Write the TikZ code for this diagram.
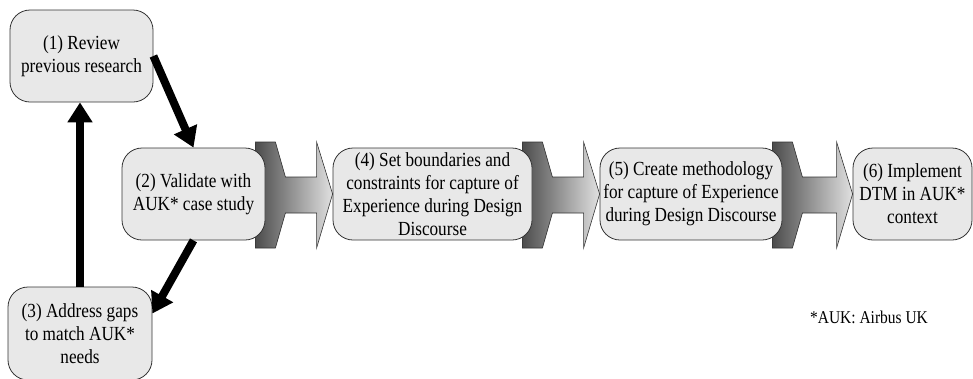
\documentclass[tikz,border=0pt]{standalone}
\usepackage{fontspec}
\setmainfont{Liberation Serif}[FakeStretch=0.86]
\usetikzlibrary{arrows.meta,calc,backgrounds}
\tikzset{
  stepbox/.style={draw=black!80, line width=0.8pt, fill=black!9,
    rounded corners=20pt, align=center, inner sep=0pt,
    minimum height=92pt, font=\fontsize{20}{23}\selectfont},
  loop/.style={line width=8pt, -{Triangle[width=24pt,length=20pt]}},
  blockarrow/.style={draw=black!80, line width=0.6pt,
    left color=black!70, right color=black!12}
}

\begin{document}
\begin{tikzpicture}[x=1pt,y=-1pt]
  \useasboundingbox (0,0) rectangle (973,378);

  % boxes
  \node[stepbox, minimum width=143pt] (r1) at (81.5,56) {(1) Review\\previous research};
  \node[stepbox, minimum width=143pt] (r2) at (193.5,194) {(2) Validate with\\AUK* case study};
  \node[stepbox, minimum width=144pt, minimum height=93pt] (r3) at (80,333.5) {(3) Address gaps\\to match AUK*\\needs};
  \node[stepbox, minimum width=199pt] (r4) at (432.5,194) {(4) Set boundaries and\\constraints for capture of\\Experience during Design\\Discourse};
  \node[stepbox, minimum width=182pt] (r5) at (691,194) {(5) Create methodology\\for capture of Experience\\during Design Discourse};
  \node[stepbox, minimum width=119pt] (r6) at (912.5,194) {(6) Implement\\DTM in AUK*\\context};

  % block arrows, behind the boxes
  \begin{scope}[on background layer]
  \foreach \a/\b in {r2/r4, r4/r5, r5/r6}
    \path[blockarrow] let \p1=(\a.east), \p2=(\b.west) in
      (\x1-10pt,\y2+52pt) -- (\x1+10pt,\y2+52pt) -- (\x1+20pt,\y2+17pt)
      -- (\x2-16pt,\y2+17pt) -- (\x2-16pt,\y2+52pt) -- (\x2,\y2)
      -- (\x2-16pt,\y2-54pt) -- (\x2-16pt,\y2-19pt) -- (\x1+20pt,\y2-19pt)
      -- (\x1+10pt,\y2-54pt) -- (\x1-10pt,\y2-54pt) -- cycle;
  \end{scope}

  % loop
  \draw[loop] (r1.east) -- (r2.north);
  \draw[loop] (r2.south) -- ([yshift=20pt]r3.east);
  \draw[loop] (r3.north) -- (r3.north |- r1.south);

  \node[font=\fontsize{18}{21}\selectfont] (note) at (869,317) {*AUK: Airbus UK};
\end{tikzpicture}
\end{document}
